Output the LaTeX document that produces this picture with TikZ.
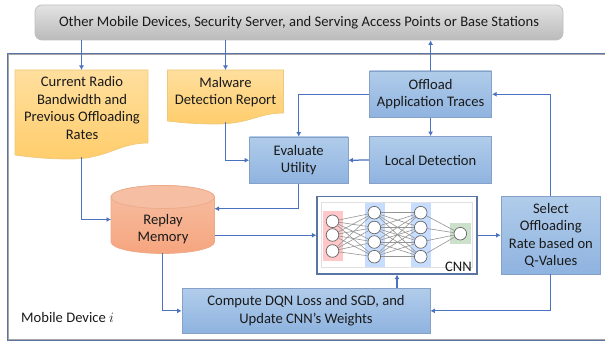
\documentclass[tikz,border=0pt]{standalone}
\usepackage{fontspec}
\setmainfont{Carlito}
\usetikzlibrary{arrows.meta}
\definecolor{linkc}{HTML}{4A72BE}
\definecolor{bluetop}{HTML}{B0CCEA}
\definecolor{bluebot}{HTML}{8FB3E0}
\definecolor{blueedge}{HTML}{86A0C8}
\definecolor{doctop}{HTML}{FFDF9E}
\definecolor{docbot}{HTML}{FFCD6C}
\definecolor{docedge}{HTML}{EFC878}
\definecolor{reptop}{HTML}{F6BFA3}
\definecolor{repbot}{HTML}{F6A57F}
\definecolor{repedge}{HTML}{EBAA88}
\definecolor{txt}{HTML}{1A1A1A}
\definecolor{frameblue}{HTML}{5A74A6}
\tikzset{
  x=1pt,y=-1pt,
  lbl/.style={font=\fontsize{14.6}{17.4}\selectfont,align=center,text=txt,inner sep=0pt},
  bluebox/.style={lbl,draw=blueedge,line width=.8pt,top color=bluetop,bottom color=bluebot,minimum width=#1,anchor=center},
  link/.style={draw=linkc,line width=1.25pt,-{Latex[length=4.5pt,width=5pt]}},
  docshape/.style={draw=docedge,line width=.7pt,top color=doctop,bottom color=docbot},
  anchorbox/.style={minimum width=#1,inner sep=0pt,outer sep=0pt},
  unit/.style={circle,draw=black!60,fill=white,line width=.7pt,minimum size=12.6pt,inner sep=0pt},
  wire/.style={draw=black!42,line width=.6pt},
}
\begin{document}
\begin{tikzpicture}
\useasboundingbox (0,0) rectangle (605,344);
% outer device frame
\draw[draw=black!35,line width=1pt] (605,55) -- (8,55) -- (8,339.5) -- (605,339.5);
\draw[draw=frameblue,line width=1pt] (605,54) -- (7,54) -- (7,340.5) -- (605,340.5);
% top box
\node[lbl,draw=black!25,line width=.8pt,rounded corners=7pt,top color=black!11,bottom color=black!27,minimum width=528pt,minimum height=35pt] (top) at (299,22.5) {Other Mobile Devices, Security Server, and Serving Access Points or Base Stations};
% documents
\path[docshape] (15,70) -- (148,70) -- (148,143) .. controls (118,143) and (108,159) .. (70,159) .. controls (45,159) and (30,157) .. (15,155) -- cycle;
\node[anchorbox=133pt,minimum height=87pt] (doc1) at (81.5,113.5) {};
\node[lbl] (doc1text) at (82,108) {Current Radio\\Bandwidth and\\Previous Offloading\\Rates};
\path[docshape] (167.5,70) -- (283.5,70) -- (283.5,113) .. controls (258,113) and (250,124) .. (216,124) .. controls (195,124) and (180,122.5) .. (167.5,121) -- cycle;
\node[anchorbox=116pt,minimum height=52pt] (doc2) at (225.5,96) {};
\node[lbl] (doc2text) at (225.5,92) {Malware\\Detection Report};
% replay memory
\path[draw=repedge,line width=.7pt,top color=reptop,bottom color=repbot] (111,197) -- (111,242) arc[x radius=51.75pt,y radius=11.5pt,start angle=180,end angle=360] -- (214.5,197) arc[x radius=51.75pt,y radius=11.5pt,start angle=0,end angle=180] -- cycle;
\draw[draw=repedge,line width=.7pt,fill=reptop] (162.75,197) ellipse [x radius=51.75pt,y radius=11.5pt];
\node[anchorbox=103.5pt,minimum height=68pt] (replay) at (162.75,219.5) {};
\node[lbl] (replaytext) at (163,229) {Replay\\Memory};
\coordinate (replayin) at (214.5,208.7);
\coordinate (replayout) at (214.5,235.25);
% blue boxes
\node[bluebox=98.5pt,minimum height=46.5pt] (eval) at (298.75,160.25) {Evaluate\\Utility};
\node[bluebox=122.2pt,minimum height=46.5pt] (offload) at (430.6,94.25) {Offload\\Application Traces};
\node[bluebox=122.2pt,minimum height=47pt] (local) at (430.6,160) {Local Detection};
\node[bluebox=99.7pt,minimum height=77.5pt] (select) at (550.85,235.25) {Select\\Offloading\\Rate based on\\Q-Values};
\node[bluebox=248pt,minimum height=44.3pt] (compute) at (306,310.85) {Compute DQN Loss and SGD, and\\Update CNN’s Weights};
% CNN
\node[draw=frameblue,fill=white,line width=1.2pt,minimum width=160pt,minimum height=77.5pt,inner sep=0pt] (cnn) at (397,235.25) {};
\node[draw=black!12,line width=.6pt,minimum width=151pt,minimum height=65pt,inner sep=0pt] (cnninner) at (397.2,235.2) {};
\node[fill=red!50!pink!35,minimum width=20.6pt,minimum height=49.7pt,inner sep=0pt] (layerA) at (333,235.85) {};
\node[fill=blue!60!cyan!22,minimum width=20.4pt,minimum height=64.3pt,inner sep=0pt] (layerB) at (374.8,234.85) {};
\node[fill=blue!60!cyan!22,minimum width=20.4pt,minimum height=64.3pt,inner sep=0pt] (layerC) at (421,234.85) {};
\node[fill=green!40!black!20!white,minimum width=21pt,minimum height=21pt,inner sep=0pt] (layerD) at (460.5,233.5) {};
% network units
\foreach \n/\y in {1/221.3,2/235,3/251} \node[unit] (a\n) at (332.5,\y) {};
\foreach \n/\y in {1/212.7,2/227.5,3/242,4/256.7} {
  \node[unit] (b\n) at (374.3,\y) {};
  \node[unit] (c\n) at (420.7,\y) {};
}
\node[unit] (d1) at (460.3,233.7) {};
\foreach \i in {1,2,3} \foreach \j in {1,2,3,4} \draw[wire] (a\i) -- (b\j);
\foreach \i in {1,2,3,4} \foreach \j in {1,2,3,4} \draw[wire] (b\i) -- (c\j);
\foreach \i in {1,2,3,4} \draw[wire] (c\i) -- (d1);
\node[lbl,anchor=south east] (cnnlabel) at (472,272) {CNN};
% connectors
\coordinate (toptodoc1) at (top.south -| doc1.north);
\coordinate (toptodoc2) at (top.south -| doc2.north);
\coordinate (toptooff) at (top.south -| offload.north);
\draw[link] (toptodoc1) -- (doc1.north);
\draw[link] (toptodoc2) -- (doc2.north);
\draw[link] (offload.north) -- (toptooff);
\draw[link] (offload.south) -- (local.north);
\draw[link] (local.west) -- (eval.east);
\draw[link] (offload.west) -| (eval.north);
\draw[link] (doc1.south) |- (replay.west);
\draw[link] (doc2.south) |- (eval.west);
\draw[link] (eval.south) |- (replayin);
\draw[link] (replayout) -- (cnn.west);
\draw[link] (cnn.east) -- (select.west);
\draw[link] (select.north) |- (offload.east);
\draw[link] (select.south) |- (compute.east);
\draw[link] (replay.south) |- (compute.west);
\coordinate (computeup) at (compute.north -| cnn.south);
\draw[link] (computeup) -- (cnn.south);
\node[lbl,anchor=west] (device) at (21,317) {Mobile Device $i$};
\end{tikzpicture}
\end{document}
